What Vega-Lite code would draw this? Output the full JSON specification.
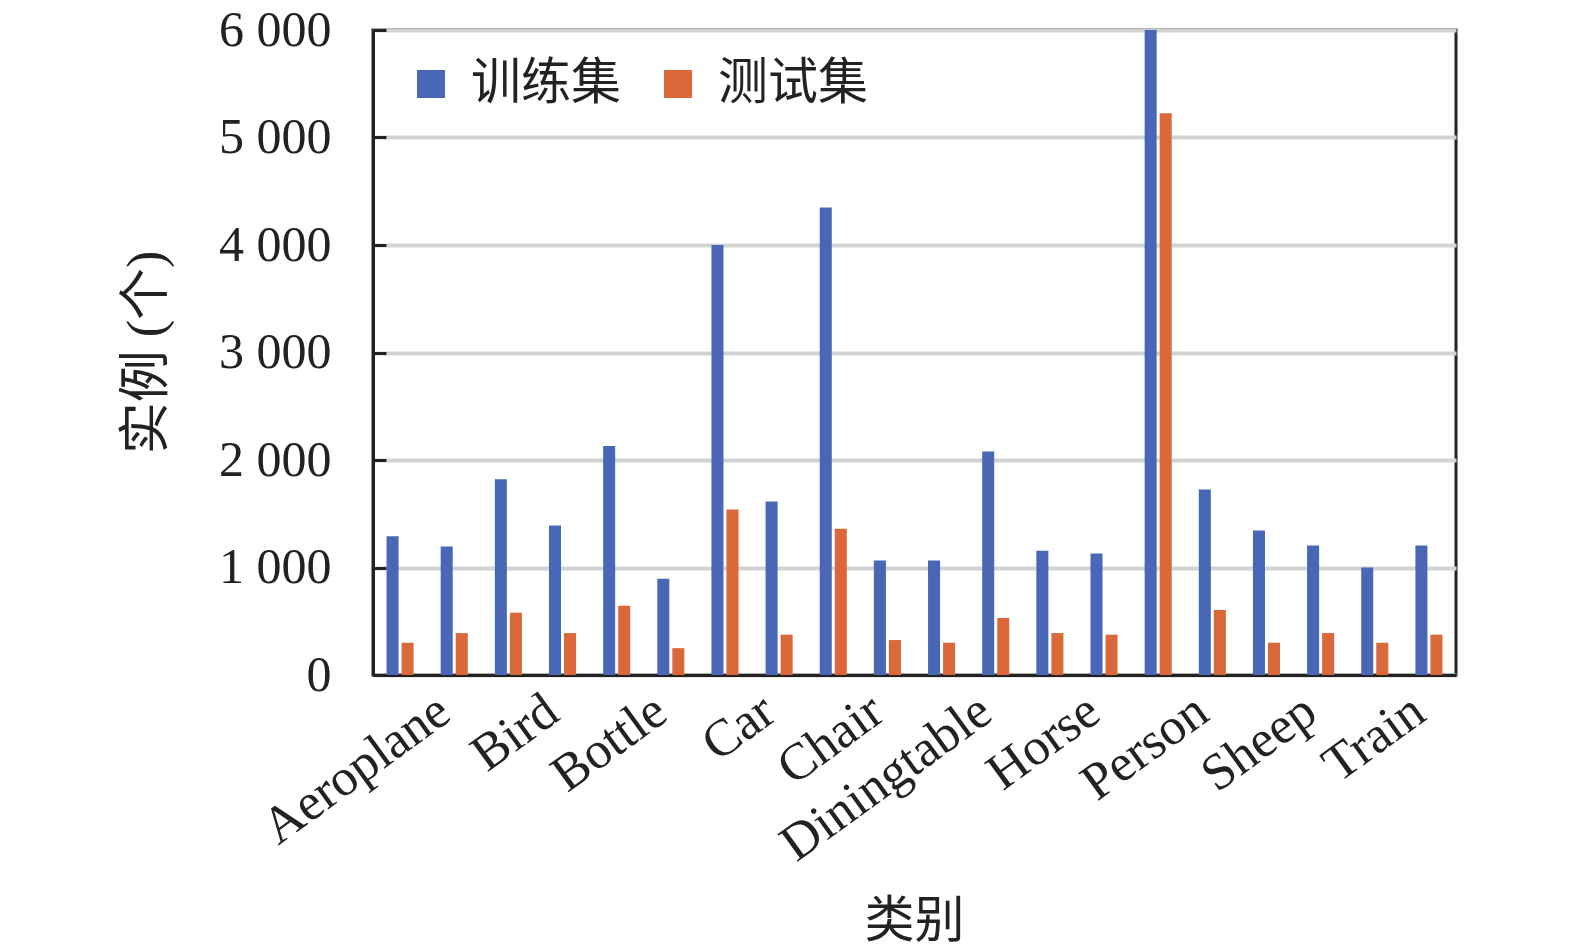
{
  "$schema": "https://vega.github.io/schema/vega-lite/v6.json",
  "width": 1083,
  "height": 645,
  "autosize": "none",
  "padding": {"left": 373, "top": 30, "right": 119, "bottom": 272},
  "data": {
    "values": [
      {"category": "Aeroplane", "series": "训练集", "count": 1290},
      {"category": "Aeroplane", "series": "测试集", "count": 300},
      {"category": "Bicycle", "series": "训练集", "count": 1195},
      {"category": "Bicycle", "series": "测试集", "count": 390},
      {"category": "Bird", "series": "训练集", "count": 1820},
      {"category": "Bird", "series": "测试集", "count": 580},
      {"category": "Boat", "series": "训练集", "count": 1390},
      {"category": "Boat", "series": "测试集", "count": 390},
      {"category": "Bottle", "series": "训练集", "count": 2130},
      {"category": "Bottle", "series": "测试集", "count": 645},
      {"category": "Bus", "series": "训练集", "count": 895},
      {"category": "Bus", "series": "测试集", "count": 250},
      {"category": "Car", "series": "训练集", "count": 4000},
      {"category": "Car", "series": "测试集", "count": 1540},
      {"category": "Cat", "series": "训练集", "count": 1615},
      {"category": "Cat", "series": "测试集", "count": 375},
      {"category": "Chair", "series": "训练集", "count": 4350},
      {"category": "Chair", "series": "测试集", "count": 1360},
      {"category": "Cow", "series": "训练集", "count": 1065},
      {"category": "Cow", "series": "测试集", "count": 325},
      {"category": "Diningtable", "series": "训练集", "count": 1065},
      {"category": "Diningtable", "series": "测试集", "count": 300},
      {"category": "Dog", "series": "训练集", "count": 2080},
      {"category": "Dog", "series": "测试集", "count": 530},
      {"category": "Horse", "series": "训练集", "count": 1155},
      {"category": "Horse", "series": "测试集", "count": 390},
      {"category": "Motorbike", "series": "训练集", "count": 1130},
      {"category": "Motorbike", "series": "测试集", "count": 375},
      {"category": "Person", "series": "训练集", "count": 6000},
      {"category": "Person", "series": "测试集", "count": 5225},
      {"category": "Pottedplant", "series": "训练集", "count": 1725},
      {"category": "Pottedplant", "series": "测试集", "count": 605},
      {"category": "Sheep", "series": "训练集", "count": 1345},
      {"category": "Sheep", "series": "测试集", "count": 300},
      {"category": "Sofa", "series": "训练集", "count": 1205},
      {"category": "Sofa", "series": "测试集", "count": 390},
      {"category": "Train", "series": "训练集", "count": 1000},
      {"category": "Train", "series": "测试集", "count": 300},
      {"category": "Tvmonitor", "series": "训练集", "count": 1205},
      {"category": "Tvmonitor", "series": "测试集", "count": 375}
    ]
  },
  "mark": {"type": "bar", "clip": true},
  "encoding": {
    "x": {
      "field": "category",
      "type": "nominal",
      "sort": null,
      "scale": {"paddingInner": 0.5, "paddingOuter": 0.25},
      "axis": {
        "title": "类别",
        "titleX": 541,
        "titleY": 246,
        "titleBaseline": "middle",
        "titleFontSize": 50,
        "labelAngle": -36,
        "labelAlign": "right",
        "labelBaseline": "middle",
        "labelOffset": 44,
        "labelPadding": 30,
        "labelLimit": 0,
        "labelFontSize": 52,
        "ticks": false,
        "grid": false,
        "labelExpr": "indexof(['Aeroplane','Bird','Bottle','Car','Chair','Diningtable','Horse','Person','Sheep','Train'], datum.value) >= 0 ? datum.value : ''"
      }
    },
    "xOffset": {
      "field": "series",
      "sort": ["训练集", "测试集"],
      "scale": {"paddingInner": 0.2, "paddingOuter": 0}
    },
    "y": {
      "field": "count",
      "type": "quantitative",
      "scale": {"domain": [0, 6000], "nice": false},
      "axis": {
        "title": "实例 (个)",
        "titleX": -227,
        "titleY": 322,
        "titleBaseline": "middle",
        "titleFontSize": 52,
        "values": [0, 1000, 2000, 3000, 4000, 5000, 6000],
        "labelExpr": "replace(format(datum.value, ','), ',', ' ')",
        "labelFontSize": 50,
        "tickSize": -13,
        "tickWidth": 3,
        "tickColor": "#222",
        "labelPadding": 55,
        "gridColor": "#d3d3d3",
        "gridWidth": 4
      }
    },
    "color": {
      "field": "series",
      "type": "nominal",
      "scale": {"domain": ["训练集", "测试集"], "range": ["#4868B5", "#DA6838"]},
      "legend": {
        "title": null,
        "orient": "none",
        "legendX": 33,
        "legendY": 29,
        "direction": "horizontal",
        "symbolType": "square",
        "symbolSize": 784,
        "symbolStrokeWidth": 0,
        "labelFontSize": 50,
        "labelOffset": 15,
        "columnPadding": 32,
        "labelColor": "#222"
      }
    }
  },
  "config": {
    "font": "Liberation Serif, Noto Sans CJK SC",
    "view": {"stroke": "#222", "strokeWidth": 3},
    "axis": {
      "titleFontWeight": "normal",
      "labelColor": "#222",
      "titleColor": "#222",
      "domainColor": "#222",
      "domainWidth": 3,
      "labelFont": "Liberation Serif, Noto Sans CJK SC",
      "titleFont": "Liberation Serif, Noto Sans CJK SC"
    },
    "legend": {"labelFont": "Liberation Serif, Noto Sans CJK SC"}
  }
}
